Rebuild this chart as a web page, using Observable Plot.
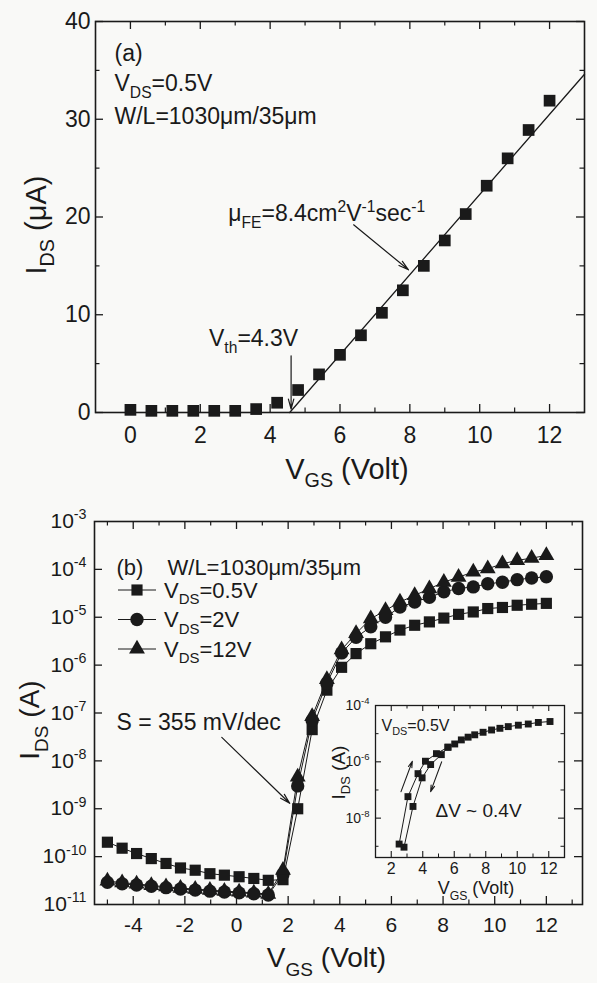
<!DOCTYPE html>
<html><head><meta charset="utf-8">
<script src="https://cdn.jsdelivr.net/npm/d3@7"></script>
<script src="https://cdn.jsdelivr.net/npm/@observablehq/plot@0.6"></script>
<style>
html,body{margin:0;padding:0;background:#f9f9f7;}
#wrap{position:relative;width:597px;height:983px;overflow:hidden;font-family:'Liberation Sans',Arial,Helvetica,sans-serif;color:#1a1a1a;}
#wrap svg{position:absolute;overflow:visible;}
</style></head><body><div id="wrap"></div>
<script>
// ---------------- data: panel (a) ----------------
const vgsA = [0,0.6,1.2,1.8,2.4,3.0,3.6,4.2,4.8,5.4,6.0,6.6,7.2,7.8,8.4,9.0,9.6,10.2,10.8,11.4,12.0];
const idsA = [0.27,0.17,0.17,0.17,0.17,0.17,0.35,1.0,2.3,3.9,5.9,7.9,10.2,12.5,15.0,17.6,20.3,23.2,26.0,28.9,31.9];
const fitVgsA = [4.56, 13];
const fitIdsA = [0, 34.6];
const xTicksA = [0,2,4,6,8,10,12];
const xMinorA = [1,3,5,7,9,11];
const yTicksA = [0,10,20,30,40];
const yMinorA = [5,15,25,35];
const annA = [
  {label: "μ_{FE}=8.4cm^{2}V^{-1}sec^{-1}", x: 2.8, y: 20.3},
  {label: "V_{th}=4.3V", x: 2.25, y: 7.55}
];
const arrowsA = [
  {x1: 6.39, y1: 19.2, x2: 7.96, y2: 14.6},
  {x1: 4.6, y1: 5.8, x2: 4.6, y2: 0.35}
];

// ---------------- data: panel (b) ----------------
const vgsB = [-5,-4.43,-3.87,-3.3,-2.73,-2.17,-1.6,-1.03,-0.47,0.1,0.67,1.23,1.8,2.37,2.93,3.5,4.07,4.63,5.2,5.77,6.33,6.9,7.47,8.03,8.6,9.17,9.73,10.3,10.87,11.43,12.0];
const ids05 = [2.0e-10,1.5e-10,1.16e-10,9.1e-11,7.2e-11,5.8e-11,5.2e-11,4.4e-11,4.1e-11,3.8e-11,3.5e-11,3.2e-11,3.3e-11,1.0e-9,4.5e-8,3.0e-7,9.0e-7,1.74e-6,2.8e-6,3.9e-6,5.4e-6,6.8e-6,8.0e-6,9.6e-6,1.15e-5,1.29e-5,1.52e-5,1.6e-5,1.78e-5,1.87e-5,1.95e-5];
const ids2  = [2.9e-11,2.7e-11,2.55e-11,2.4e-11,2.25e-11,2.1e-11,2.0e-11,1.9e-11,1.82e-11,1.75e-11,1.68e-11,1.58e-11,4.3e-11,3.0e-9,7.0e-8,4.2e-7,1.8e-6,3.8e-6,6.3e-6,1.0e-5,1.63e-5,2.08e-5,2.6e-5,3.4e-5,4.0e-5,4.3e-5,5.0e-5,5.4e-5,6.1e-5,6.6e-5,7.0e-5];
const ids12 = [3.1e-11,2.85e-11,2.7e-11,2.5e-11,2.35e-11,2.2e-11,2.1e-11,2.0e-11,1.9e-11,1.83e-11,1.75e-11,1.65e-11,5.2e-11,4.6e-9,8.5e-8,5.0e-7,2.1e-6,4.6e-6,9.3e-6,1.39e-5,2.08e-5,2.87e-5,3.95e-5,5.4e-5,6.9e-5,8.8e-5,1.03e-4,1.31e-4,1.54e-4,1.72e-4,1.95e-4];
const seriesNames = ["V_{DS}=0.5V","V_{DS}=2V","V_{DS}=12V"];
const xTicksB = [-4,-2,0,2,4,6,8,10,12];
const xMinorB = [-5,-3,-1,1,3,5,7,9,11,13];
const yTicksB = [1e-11,1e-10,1e-9,1e-8,1e-7,1e-6,1e-5,1e-4,1e-3];
const annB = [{label: "S = 355 mV/dec"}];
const arrowsB = [{x1: -0.57, y1: 3.1e-8, x2: 2.06, y2: 1.3e-9}];

// ---------------- data: inset ----------------
const insetFwdV = [2.5,3.06,3.7,4.17,4.87,5.6,6.03,6.45,6.88,7.3,7.83,8.37,8.9,9.43,10.07,10.7,11.34,12.08];
const insetFwdI = [1.2e-9,5.8e-8,3.8e-7,1.05e-6,1.95e-6,3.3e-6,4.3e-6,6.0e-6,7.5e-6,9.1e-6,1.12e-5,1.35e-5,1.55e-5,1.78e-5,2.0e-5,2.2e-5,2.5e-5,2.7e-5];
const insetRevV = [2.81,3.38,3.96,4.5,5.18,5.6];
const insetRevI = [9.3e-10,2.6e-8,2.7e-7,8.0e-7,1.8e-6,3.3e-6];
const xTicksI = [2,4,6,8,10,12];
const xMinorI = [3,5,7,9,11];
const yTicksI = [1e-4,1e-6,1e-8];
const yMinorI = [1e-5,1e-7,1e-9];
const arrowsI = [
  {x1: 2.62, y1: 8.7e-8, x2: 3.34, y2: 1.05e-6},
  {x1: 5.2, y1: 1.0e-6, x2: 4.5, y2: 8.7e-8}
];

// ---------------- helpers ----------------
const INK = "#1a1a1a";
const FONT = "'Liberation Sans', Arial, Helvetica, sans-serif";
const baseStyle = {background: "transparent", overflow: "visible", fontFamily: FONT, color: INK};
const TXT = {fill: INK, lineAnchor: "middle"};

function frameTicks(xs, ys, len, iw, ih, sw) {
  const o = {stroke: INK, strokeWidth: sw};
  const m = [];
  if (xs.length) {
    m.push(Plot.tickX(xs, {x: d => d, insetTop: ih - len, ...o}));
    m.push(Plot.tickX(xs, {x: d => d, insetBottom: ih - len, ...o}));
  }
  if (ys.length) {
    m.push(Plot.tickY(ys, {y: d => d, insetRight: iw - len, ...o}));
    m.push(Plot.tickY(ys, {y: d => d, insetLeft: iw - len, ...o}));
  }
  return m;
}
const pow10 = d => `10^{${Math.round(Math.log10(d))}}`;

// ---------------- panel (a) ----------------
const A = {w: 597, h: 490, l: 95, r: 13, t: 21, b: 78};
A.iw = A.w - A.l - A.r; A.ih = A.h - A.t - A.b;
const dataA = vgsA.map((v, i) => ({v, i: idsA[i]}));
const fitA = fitVgsA.map((v, i) => ({v, i: fitIdsA[i]}));

const plotA = Plot.plot({
  width: A.w, height: A.h, marginLeft: A.l, marginRight: A.r, marginTop: A.t, marginBottom: A.b,
  style: baseStyle,
  x: {domain: [-1, 13]},
  y: {domain: [0, 40]},
  marks: [
    ...frameTicks(xTicksA, yTicksA, 8, A.iw, A.ih, 1.3),
    ...frameTicks(xMinorA, yMinorA, 4.5, A.iw, A.ih, 1.2),
    Plot.frame({stroke: INK, strokeWidth: 1.6}),
    Plot.axisX(xTicksA, {tickSize: 0, tickPadding: 14, fontSize: 23, tickFormat: d => String(d), label: null}),
    Plot.axisY(yTicksA, {tickSize: 0, tickPadding: 5, fontSize: 23, tickFormat: d => String(d), label: null}),
    Plot.line(fitA, {x: "v", y: "i", stroke: INK, strokeWidth: 1.3}),
    Plot.dot(dataA, {x: "v", y: "i", symbol: "square", r: 6.6, fill: INK}),
    Plot.arrow(arrowsA, {x1: "x1", y1: "y1", x2: "x2", y2: "y2", stroke: INK, strokeWidth: 1.2, headLength: 13, headAngle: 30}),
    Plot.text(annA, {x: "x", y: "y", text: "label", textAnchor: "start", fontSize: 23, ...TXT}),
    Plot.text(["(a)"], {frameAnchor: "top-left", dx: 19, dy: 32, textAnchor: "start", fontSize: 23, ...TXT}),
    Plot.text(["V_{DS}=0.5V"], {frameAnchor: "top-left", dx: 19, dy: 62, textAnchor: "start", fontSize: 23, ...TXT}),
    Plot.text(["W/L=1030μm/35μm"], {frameAnchor: "top-left", dx: 19, dy: 95, textAnchor: "start", fontSize: 23, ...TXT}),
    Plot.text(["V_{GS} (Volt)"], {frameAnchor: "bottom", dx: 7, dy: 57, textAnchor: "middle", fontSize: 29, ...TXT}),
    Plot.text(["I_{DS} (μA)"], {frameAnchor: "left", dx: -59, dy: 8, rotate: -90, textAnchor: "middle", fontSize: 29, ...TXT})
  ]
});

// ---------------- panel (b) ----------------
const B = {w: 597, h: 493, l: 94, r: 15, t: 31, b: 79};
B.iw = B.w - B.l - B.r; B.ih = B.h - B.t - B.b;
const tidy = [];
[ids05, ids2, ids12].forEach((arr, s) => arr.forEach((val, k) => tidy.push({s, v: vgsB[k], i: val})));
const symbolsB = ["square", "circle", "triangle"];
const rB = [6.3, 6.7, 5.9];
const d3Sym = {square: d3.symbolSquare, circle: d3.symbolCircle, triangle: d3.symbolTriangle};

const legendB = (index, scales, values, dims) => {
  const g = d3.create("svg:g");
  seriesNames.forEach((name, k) => {
    const cy = dims.marginTop + 69 + k * 29.5;
    const cx = dims.marginLeft + 43;
    g.append("line").attr("x1", cx - 19).attr("x2", cx + 19).attr("y1", cy).attr("y2", cy)
      .attr("stroke", INK).attr("stroke-width", 1);
    g.append("path").attr("transform", `translate(${cx},${cy})`)
      .attr("d", d3.symbol(d3Sym[symbolsB[k]], Math.PI * rB[k] * rB[k])()).attr("fill", INK);
    g.append("text").attr("x", dims.marginLeft + 70).attr("y", cy).attr("dy", "0.35em")
      .attr("text-anchor", "start").attr("font-size", 22).attr("fill", INK).text(name);
  });
  return g.node();
};

const plotB = Plot.plot({
  width: B.w, height: B.h, marginLeft: B.l, marginRight: B.r, marginTop: B.t, marginBottom: B.b,
  style: baseStyle,
  x: {domain: [-5.5, 13.4]},
  y: {type: "log", domain: [1e-11, 1e-3]},
  marks: [
    ...frameTicks(xTicksB, yTicksB.slice(1, -1), 8, B.iw, B.ih, 1.3),
    ...frameTicks(xMinorB, [], 4.5, B.iw, B.ih, 1.2),
    Plot.frame({stroke: INK, strokeWidth: 1.6}),
    Plot.axisX(xTicksB, {tickSize: 0, tickPadding: 13, fontSize: 21, tickFormat: d => String(d), label: null}),
    Plot.axisY(yTicksB, {tickSize: 0, tickPadding: 8, fontSize: 21, tickFormat: pow10, label: null}),
    ...[0, 1, 2].map(s => Plot.line(tidy.filter(d => d.s === s), {x: "v", y: "i", stroke: INK, strokeWidth: 1})),
    ...[0, 1, 2].map(s => Plot.dot(tidy.filter(d => d.s === s), {x: "v", y: "i", symbol: symbolsB[s], r: rB[s], fill: INK})),
    Plot.arrow(arrowsB, {x1: "x1", y1: "y1", x2: "x2", y2: "y2", stroke: INK, strokeWidth: 1.2, headLength: 13, headAngle: 30}),
    Plot.text(annB, {frameAnchor: "top-left", dx: 22, dy: 201, text: "label", textAnchor: "start", fontSize: 23, ...TXT}),
    Plot.text(["(b)"], {frameAnchor: "top-left", dx: 22, dy: 46, textAnchor: "start", fontSize: 22, ...TXT}),
    Plot.text(["W/L=1030μm/35μm"], {frameAnchor: "top-left", dx: 73, dy: 46, textAnchor: "start", fontSize: 22, ...TXT}),
    legendB,
    Plot.text(["V_{GS} (Volt)"], {frameAnchor: "bottom", dx: -12, dy: 54, textAnchor: "middle", fontSize: 28, ...TXT}),
    Plot.text(["I_{DS} (A)"], {frameAnchor: "left", dx: -64, dy: 7, rotate: -90, textAnchor: "middle", fontSize: 28, ...TXT})
  ]
});

// ---------------- inset ----------------
const I = {w: 280, h: 210, l: 75, r: 16, t: 10, b: 48, left: 300, top: 695};
I.iw = I.w - I.l - I.r; I.ih = I.h - I.t - I.b;
const fwd = insetFwdV.map((v, k) => ({v, i: insetFwdI[k]}));
const rev = insetRevV.map((v, k) => ({v, i: insetRevI[k]}));
const plotI = Plot.plot({
  width: I.w, height: I.h, marginLeft: I.l, marginRight: I.r, marginTop: I.t, marginBottom: I.b,
  style: baseStyle,
  x: {domain: [1, 13]},
  y: {type: "log", domain: [4e-10, 1e-4]},
  marks: [
    ...frameTicks(xTicksI, yTicksI.slice(1), 6, I.iw, I.ih, 1.1),
    ...frameTicks(xMinorI, yMinorI, 3.5, I.iw, I.ih, 1),
    Plot.frame({stroke: INK, strokeWidth: 1.3}),
    Plot.axisX(xTicksI, {tickSize: 0, tickPadding: 5, fontSize: 16, tickFormat: d => String(d), label: null}),
    Plot.axisY(yTicksI, {tickSize: 0, tickPadding: 6, fontSize: 14, tickFormat: pow10, label: null}),
    Plot.line(fwd, {x: "v", y: "i", stroke: INK, strokeWidth: 1}),
    Plot.line(rev, {x: "v", y: "i", stroke: INK, strokeWidth: 1}),
    Plot.dot(fwd, {x: "v", y: "i", symbol: "square", r: 3.9, fill: INK}),
    Plot.dot(rev, {x: "v", y: "i", symbol: "square", r: 3.9, fill: INK}),
    Plot.arrow(arrowsI, {x1: "x1", y1: "y1", x2: "x2", y2: "y2", stroke: INK, strokeWidth: 1.1, headLength: 9, headAngle: 32}),
    Plot.text(["V_{DS}=0.5V"], {frameAnchor: "top-left", dx: 6, dy: 20, textAnchor: "start", fontSize: 16, ...TXT}),
    Plot.text(["ΔV ~ 0.4V"], {frameAnchor: "top-left", dx: 103, dy: 105, textAnchor: "middle", fontSize: 19, ...TXT}),
    Plot.text(["V_{GS} (Volt)"], {frameAnchor: "bottom", dx: 6, dy: 31, textAnchor: "middle", fontSize: 18, ...TXT}),
    Plot.text(["I_{DS} (A)"], {frameAnchor: "left", dx: -37, dy: -9, rotate: -90, textAnchor: "middle", fontSize: 19, ...TXT})
  ]
});

// ---------------- layout ----------------
const wrap = document.getElementById("wrap");
function place(svg, left, top) {
  svg.style.left = left + "px"; svg.style.top = top + "px";
  wrap.appendChild(svg);
}
place(plotA, 0, 0);
place(plotB, 0, 490);
place(plotI, I.left, I.top);

// ---------------- sub/superscript rendering ----------------
const NS = "http://www.w3.org/2000/svg";
function rich(root) {
  root.querySelectorAll("text").forEach(t => {
    const leafs = t.querySelector("tspan") ? [...t.querySelectorAll("tspan")] : [t];
    leafs.forEach(el => {
      const s = el.textContent;
      if (!/[_^]\{/.test(s)) return;
      const fs = parseFloat(getComputedStyle(el).fontSize) || 16;
      el.textContent = "";
      const re = /([_^])\{([^}]*)\}|([^_^]+|[_^])/g;
      let m, cur = 0;
      while ((m = re.exec(s))) {
        const ts = document.createElementNS(NS, "tspan");
        let target = 0;
        if (m[1]) {
          target = m[1] === "_" ? 0.3 * fs : -0.42 * fs;
          ts.setAttribute("font-size", (0.68 * fs).toFixed(2));
          ts.textContent = m[2];
        } else {
          ts.textContent = m[3];
        }
        if (target !== cur) ts.setAttribute("dy", (target - cur).toFixed(2));
        cur = target;
        el.appendChild(ts);
      }
    });
  });
}
rich(wrap);
</script>
</body></html>
